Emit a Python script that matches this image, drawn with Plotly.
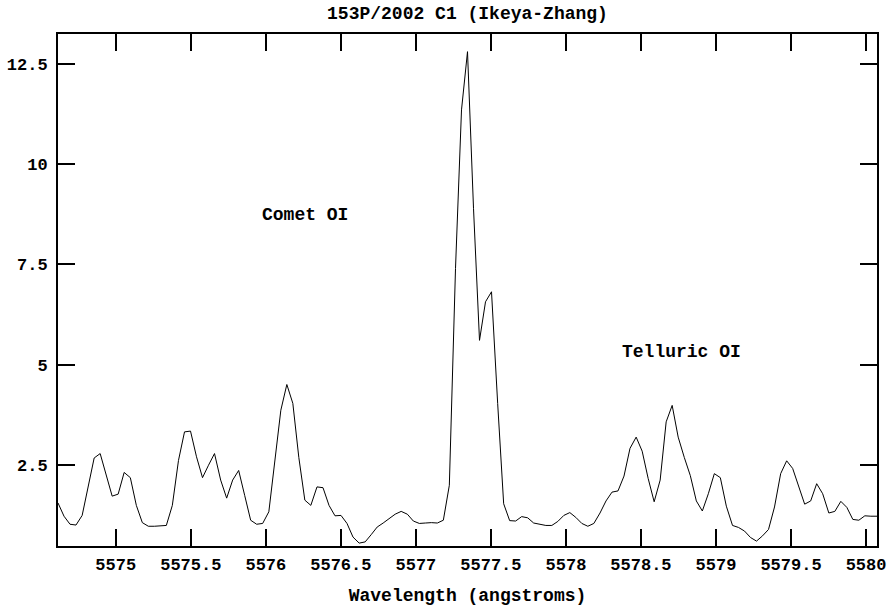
import plotly.graph_objects as go

# Wavelength grid (angstroms)
wavelength = [
    5574.615, 5574.655, 5574.695, 5574.735, 5574.776, 5574.816, 5574.856, 5574.896, 5574.936, 5574.976,
    5575.016, 5575.056, 5575.097, 5575.137, 5575.177, 5575.217, 5575.257, 5575.297, 5575.337, 5575.377,
    5575.418, 5575.458, 5575.498, 5575.538, 5575.578, 5575.618, 5575.658, 5575.699, 5575.739, 5575.779,
    5575.819, 5575.859, 5575.899, 5575.939, 5575.979, 5576.020, 5576.060, 5576.100, 5576.140, 5576.180,
    5576.220, 5576.260, 5576.300, 5576.341, 5576.381, 5576.421, 5576.461, 5576.501, 5576.541, 5576.581,
    5576.622, 5576.662, 5576.702, 5576.742, 5576.782, 5576.822, 5576.862, 5576.902, 5576.943, 5576.983,
    5577.023, 5577.063, 5577.103, 5577.143, 5577.183, 5577.223, 5577.264, 5577.304, 5577.344, 5577.384,
    5577.424, 5577.464, 5577.504, 5577.545, 5577.585, 5577.625, 5577.665, 5577.705, 5577.745, 5577.785,
    5577.825, 5577.866, 5577.906, 5577.946, 5577.986, 5578.026, 5578.066, 5578.106, 5578.146, 5578.186,
    5578.227, 5578.267, 5578.307, 5578.347, 5578.387, 5578.427, 5578.468, 5578.508, 5578.548, 5578.588,
    5578.628, 5578.668, 5578.708, 5578.748, 5578.789, 5578.829, 5578.869, 5578.909, 5578.949, 5578.989,
    5579.029, 5579.069, 5579.110, 5579.150, 5579.190, 5579.230, 5579.270, 5579.310, 5579.350, 5579.390,
    5579.431, 5579.471, 5579.511, 5579.551, 5579.591, 5579.631, 5579.671, 5579.711, 5579.752, 5579.792,
    5579.832, 5579.872, 5579.912, 5579.952, 5579.992, 5580.032, 5580.073,
]

# Flux values
flux = [
    1.56, 1.23, 1.03, 1.01, 1.25, 1.96, 2.68, 2.79, 2.28, 1.73,
    1.78, 2.32, 2.19, 1.50, 1.07, 0.98, 0.98, 0.99, 1.00, 1.50,
    2.62, 3.33, 3.35, 2.71, 2.19, 2.50, 2.79, 2.13, 1.68, 2.13,
    2.37, 1.75, 1.13, 1.03, 1.05, 1.34, 2.58, 3.87, 4.51, 4.04,
    2.69, 1.63, 1.50, 1.96, 1.94, 1.50, 1.24, 1.25, 1.05, 0.71,
    0.56, 0.59, 0.77, 0.96, 1.06, 1.17, 1.28, 1.35, 1.28, 1.11,
    1.05, 1.06, 1.07, 1.06, 1.13, 2.00, 7.40, 11.35, 12.80, 8.90,
    5.61, 6.57, 6.82, 4.04, 1.54, 1.12, 1.11, 1.22, 1.19, 1.06,
    1.03, 1.00, 1.00, 1.10, 1.25, 1.32, 1.20, 1.05, 0.98, 1.05,
    1.31, 1.61, 1.83, 1.86, 2.23, 2.92, 3.20, 2.85, 2.17, 1.59,
    2.13, 3.58, 3.99, 3.20, 2.69, 2.24, 1.61, 1.36, 1.79, 2.29,
    2.19, 1.48, 1.00, 0.95, 0.86, 0.70, 0.61, 0.74, 0.90, 1.46,
    2.29, 2.61, 2.42, 1.96, 1.53, 1.61, 2.04, 1.79, 1.31, 1.35,
    1.60, 1.45, 1.15, 1.13, 1.24, 1.23, 1.23,
]

x_tick_values = [5575, 5575.5, 5576, 5576.5, 5577, 5577.5, 5578, 5578.5, 5579, 5579.5, 5580]
x_tick_labels = ["5575", "5575.5", "5576", "5576.5", "5577", "5577.5", "5578", "5578.5", "5579", "5579.5", "5580"]
y_tick_values = [2.5, 5, 7.5, 10, 12.5]
y_tick_labels = ["2.5", "5", "7.5", "10", "12.5"]

label_texts = ["Comet OI", "Telluric OI"]
label_x = [5576.26, 5578.77]
label_y = [8.73, 5.32]

FONT = "Liberation Mono"
font_text = dict(family=FONT, size=18, color="black", weight="bold")
font_tick = dict(family=FONT, size=17, color="black", weight="bold")

W, H = 888, 612

fig = go.Figure()
fig.add_trace(go.Scatter(
    x=wavelength, y=flux, mode="lines",
    line=dict(color="black", width=1),
    showlegend=False, hoverinfo="skip",
))

for t, lx, ly in zip(label_texts, label_x, label_y):
    fig.add_annotation(x=lx, y=ly, text=t, showarrow=False,
                       font=font_text, xanchor="center", yanchor="middle")

axis_common = dict(
    showline=True, linecolor="black", linewidth=2, mirror="ticks",
    ticks="inside", ticklen=17, tickwidth=2, tickcolor="black",
    showgrid=False, zeroline=False, automargin=False,
    tickfont=font_tick,
)

fig.update_xaxes(
    range=[5574.615, 5580.073], tickmode="array",
    tickvals=x_tick_values, ticktext=x_tick_labels,
    ticklabelstandoff=2,
    title=dict(text="Wavelength (angstroms)", font=font_text, standoff=14),
    **axis_common,
)
fig.update_yaxes(
    range=[0.488, 13.24], tickmode="array",
    tickvals=y_tick_values, ticktext=y_tick_labels,
    ticklabelstandoff=5,
    **axis_common,
)

fig.update_layout(
    width=W, height=H,
    margin=dict(l=58, r=11, t=34, b=66),
    paper_bgcolor="white", plot_bgcolor="white",
    title=dict(text="153P/2002 C1 (Ikeya-Zhang)", x=0.5, xref="paper",
               y=1 - 13 / H, yref="container", yanchor="middle", xanchor="center",
               automargin=False, font=font_text),
)

fig.write_html("out.html", config={"displayModeBar": False},
               post_script="document.body.style.margin='0px';")
